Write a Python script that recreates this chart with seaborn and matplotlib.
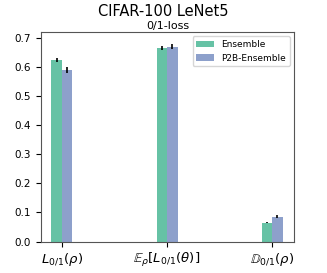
import pandas as pd
import matplotlib
matplotlib.use('Agg')
import matplotlib.pyplot as plt
import seaborn as sns

# 資料
metrics = [r'$L_{0/1}(\rho)$', r'$\mathbb{E}_\rho[L_{0/1}(\theta)]$', r'$\mathbb{D}_{0/1}(\rho)$']
models = ['Ensemble', 'P2B-Ensemble']
ensemble_vals = [0.624, 0.665, 0.065]
p2b_vals = [0.588, 0.670, 0.086]
ensemble_err = [0.007, 0.008, 0.002]
p2b_err = [0.010, 0.010, 0.004]

df = pd.DataFrame({
    'metric': metrics * 2,
    'model': [models[0]] * 3 + [models[1]] * 3,
    'value': ensemble_vals + p2b_vals,
    'err': ensemble_err + p2b_err,
})

fig, ax = plt.subplots(figsize=(3.27, 2.73), dpi=100)
palette = sns.color_palette('Set2')
sns.barplot(data=df, x='metric', y='value', hue='model', order=metrics, hue_order=models,
            palette=[palette[0], palette[2]], width=0.2, errorbar=None, saturation=1, ax=ax)

# error bars from bar positions
for container, m in zip(ax.containers, models):
    sub = df[df['model'] == m].set_index('metric').loc[metrics]
    xs = [p.get_x() + p.get_width() / 2 for p in container.patches]
    ax.errorbar(xs, sub['value'], yerr=sub['err'], fmt='none', ecolor='black', elinewidth=1.2)

fig.suptitle('CIFAR-100 LeNet5', fontsize=10.5, y=0.985, va='top')
ax.set_title('0/1-loss', fontsize=8, pad=2)
ax.set_xlabel('')
ax.set_ylabel('')
ax.set_ylim(0, 0.72)
ax.set_xlim(-0.2, 2.21)
ax.set_yticks([0.0, 0.1, 0.2, 0.3, 0.4, 0.5, 0.6, 0.7])
ax.tick_params(axis='y', labelsize=7.5)
ax.tick_params(axis='x', labelsize=9.5)
for s in ax.spines.values():
    s.set_color('#555555')
ax.legend(loc='upper right', fontsize=6.5, framealpha=0.8)
plt.subplots_adjust(left=0.125, right=0.9, top=0.883, bottom=0.115)
plt.savefig('out.png', dpi=100)
